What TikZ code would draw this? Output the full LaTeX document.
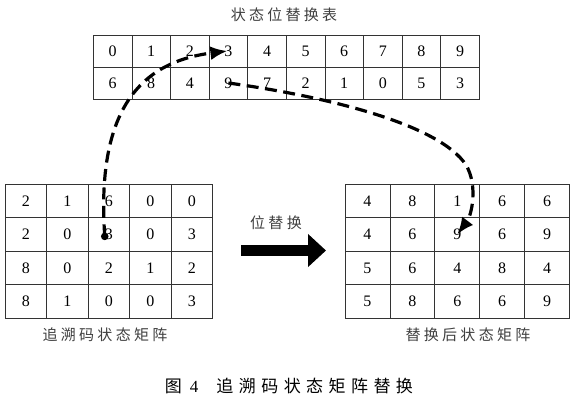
\documentclass[tikz,border=0pt]{standalone}
\usepackage{fontspec}
\setmainfont{Liberation Serif}
\newfontfamily\cjk[LetterSpace=22]{Noto Sans CJK SC}
\newfontfamily\cjkcap[LetterSpace=32]{Noto Sans CJK SC}
\usetikzlibrary{arrows.meta}
\begin{document}
\begin{tikzpicture}[x=1pt,y=-1pt,
  cell/.style={draw=black!80, line width=0.8pt, inner sep=0pt, font=\fontsize{16}{16}\selectfont},
  toprow/.style={cell, minimum width=38.6pt, minimum height=32pt},
  leftcell/.style={cell, minimum width=41.5pt, minimum height=33.6pt},
  rightcell/.style={cell, minimum width=44.9pt, minimum height=33.6pt},
  lbl/.style={font=\cjk\fontsize{15}{15}\selectfont, text=black!75, inner sep=0pt},
  link/.style={line width=3.2pt, dash pattern=on 12pt off 6.5pt, -{Latex[length=17pt,width=14pt]}},
  bigarrow/.style={line width=10.5pt, -{Triangle[length=18pt,width=32pt]}},
]
\useasboundingbox (0,0) rectangle (576,400);
\fill[white] (0,0) rectangle (576,400);

% top substitution table
\node[lbl] (title) at (284,15) {状态位替换表};
\foreach \v [count=\i] in {0,1,2,3,4,5,6,7,8,9}
  \node[toprow] (T-1-\i) at ({93.3+38.6*(\i-0.5)},51) {\v};
\foreach \v [count=\i] in {6,8,4,9,7,2,1,0,5,3}
  \node[toprow] (T-2-\i) at ({93.3+38.6*(\i-0.5)},83) {\v};

% left matrix
\foreach \row [count=\r] in {{2,1,6,0,0},{2,0,3,0,3},{8,0,2,1,2},{8,1,0,0,3}}
  \foreach \v [count=\c] in \row
    \node[leftcell] (L-\r-\c) at ({5+41.5*(\c-0.5)},{184+33.6*(\r-0.5)}) {\v};
\node[lbl] (ltitle) at (105,335) {追溯码状态矩阵};

% right matrix
\foreach \row [count=\r] in {{4,8,1,6,6},{4,6,9,6,9},{5,6,4,8,4},{5,8,6,6,9}}
  \foreach \v [count=\c] in \row
    \node[rightcell] (R-\r-\c) at ({345+44.9*(\c-0.5)},{184+33.6*(\r-0.5)}) {\v};
\node[lbl] (rtitle) at (468,335) {替换后状态矩阵};

% middle arrow
\node[lbl] (mid) at (276,223) {位替换};
\coordinate (a1) at (241,250.5);
\coordinate (a2) at (326,250.5);
\draw[bigarrow] (a1) -- (a2);

% dashed links
\coordinate (s1) at ([xshift=-4pt,yshift=-2pt]L-2-3.center);
\fill (s1) circle[radius=3.8pt];
\draw[link] (s1) .. controls (96,110) and (140,62) .. ([xshift=-1pt]T-1-4.center);
\draw[link] (T-2-4.center) .. controls (330,97) and (440,125) .. (466,165)
  .. controls (478,185) and (472,215) .. (R-2-3.center);

% caption
\node[font=\cjkcap\fontsize{17}{17}\selectfont, inner sep=0pt] (cap) at (289,386)
  {图\hspace{8pt}{\rmfamily 4}\hspace{18pt}追溯码状态矩阵替换};
\end{tikzpicture}
\end{document}
